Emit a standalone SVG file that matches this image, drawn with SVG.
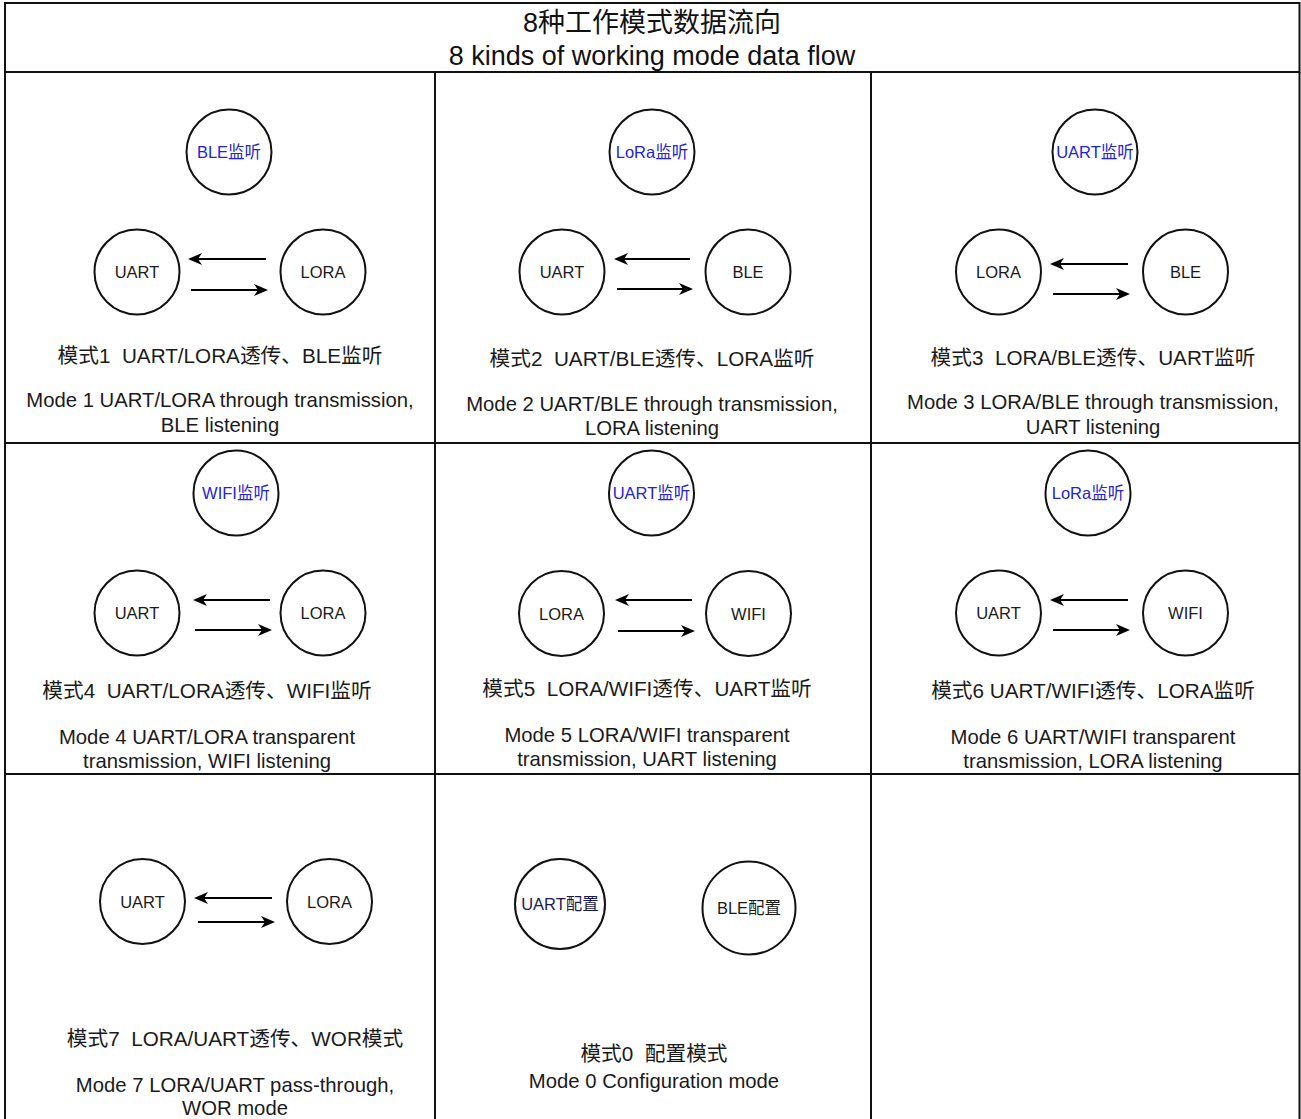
<svg xmlns="http://www.w3.org/2000/svg" width="1301" height="1119" viewBox="0 0 1301 1119">
<defs>
<marker id="ah" viewBox="0 0 14 12" markerWidth="14" markerHeight="12" markerUnits="userSpaceOnUse" refX="9" refY="6" orient="auto">
<path d="M0,0 L14,6 L0,12 L4,6 z" fill="#000"/>
</marker>
<style>
.grid{stroke:#111;stroke-width:2;fill:none}
.node{fill:#fff;stroke:#111;stroke-width:2}
.nt{font-family:"Liberation Sans","Noto Sans CJK SC",sans-serif;font-size:16.5px;fill:#1a1a1a;text-anchor:middle;dominant-baseline:central}
.blue{fill:#2323dd}
.navy{fill:#1a1a55}
.lbl{font-family:"Liberation Sans","Noto Sans CJK SC",sans-serif;font-size:20.3px;fill:#1a1a1a;text-anchor:middle;white-space:pre}
.cn{font-size:20.7px}
.ttl{font-family:"Liberation Sans","Noto Sans CJK SC",sans-serif;font-size:27px;fill:#111;text-anchor:middle}
.arr{stroke:#000;stroke-width:2;fill:none;marker-end:url(#ah)}
</style>
</defs>
<rect width="1301" height="1119" fill="#fff"/>
<g id="grid">
<rect x="5" y="3" width="1294.5" height="69" class="grid"/>
<line x1="5" y1="72" x2="5" y2="1119" class="grid"/>
<line x1="1299.5" y1="72" x2="1299.5" y2="1119" class="grid"/>
<line x1="435" y1="72" x2="435" y2="1119" class="grid"/>
<line x1="871" y1="72" x2="871" y2="1119" class="grid"/>
<line x1="5" y1="443" x2="1300" y2="443" class="grid"/>
<line x1="5" y1="774" x2="1300" y2="774" class="grid"/>
</g>
<g id="title">
<text x="652" y="32" class="ttl">8种工作模式数据流向</text>
<text x="652" y="65" class="ttl">8 kinds of working mode data flow</text>
</g>
<!-- Mode 1 -->
<g id="m1-ble"><circle cx="229" cy="152" r="42.5" class="node"/><text x="229" y="152" class="nt blue">BLE监听</text></g>
<g id="m1-uart"><circle cx="137" cy="272" r="42.5" class="node"/><text x="137" y="272" class="nt">UART</text></g>
<g id="m1-lora"><circle cx="323" cy="272" r="42.5" class="node"/><text x="323" y="272" class="nt">LORA</text></g>
<g id="m1-label">
<text x="220" y="363" class="lbl cn" xml:space="preserve">模式1  UART/LORA透传、BLE监听</text>
<text x="220" y="407" class="lbl">Mode 1 UART/LORA through transmission,</text>
<text x="220" y="432" class="lbl">BLE listening</text>
</g>
<!-- Mode 2 -->
<g id="m2-lora"><circle cx="652" cy="152" r="42.5" class="node"/><text x="652" y="152" class="nt blue">LoRa监听</text></g>
<g id="m2-uart"><circle cx="562" cy="272" r="42.5" class="node"/><text x="562" y="272" class="nt">UART</text></g>
<g id="m2-ble"><circle cx="748" cy="272" r="42.5" class="node"/><text x="748" y="272" class="nt">BLE</text></g>
<g id="m2-label">
<text x="652" y="366" class="lbl cn" xml:space="preserve">模式2  UART/BLE透传、LORA监听</text>
<text x="652" y="411" class="lbl">Mode 2 UART/BLE through transmission,</text>
<text x="652" y="435" class="lbl">LORA listening</text>
</g>
<!-- Mode 3 -->
<g id="m3-uart"><circle cx="1095" cy="152" r="42.5" class="node"/><text x="1095" y="152" class="nt blue">UART监听</text></g>
<g id="m3-lora"><circle cx="998.5" cy="272" r="42.5" class="node"/><text x="998.5" y="272" class="nt">LORA</text></g>
<g id="m3-ble"><circle cx="1185.5" cy="272" r="42.5" class="node"/><text x="1185.5" y="272" class="nt">BLE</text></g>
<g id="m3-label">
<text x="1093" y="365" class="lbl cn" xml:space="preserve">模式3  LORA/BLE透传、UART监听</text>
<text x="1093" y="409" class="lbl">Mode 3 LORA/BLE through transmission,</text>
<text x="1093" y="434" class="lbl">UART listening</text>
</g>
<!-- Mode 4 -->
<g id="m4-wifi"><circle cx="236" cy="493" r="42.5" class="node"/><text x="236" y="493" class="nt blue">WIFI监听</text></g>
<g id="m4-uart"><circle cx="137" cy="613" r="42.5" class="node"/><text x="137" y="613" class="nt">UART</text></g>
<g id="m4-lora"><circle cx="323" cy="613" r="42.5" class="node"/><text x="323" y="613" class="nt">LORA</text></g>
<g id="m4-label">
<text x="207" y="698" class="lbl cn" xml:space="preserve">模式4  UART/LORA透传、WIFI监听</text>
<text x="207" y="744" class="lbl">Mode 4 UART/LORA transparent</text>
<text x="207" y="768" class="lbl">transmission, WIFI listening</text>
</g>
<!-- Mode 5 -->
<g id="m5-uart"><circle cx="651.5" cy="493" r="42.5" class="node"/><text x="651.5" y="493" class="nt blue">UART监听</text></g>
<g id="m5-lora"><circle cx="561.5" cy="613.5" r="42.5" class="node"/><text x="561.5" y="613.5" class="nt">LORA</text></g>
<g id="m5-wifi"><circle cx="748.5" cy="613.5" r="42.5" class="node"/><text x="748.5" y="613.5" class="nt">WIFI</text></g>
<g id="m5-label">
<text x="647" y="696" class="lbl cn" xml:space="preserve">模式5  LORA/WIFI透传、UART监听</text>
<text x="647" y="742" class="lbl">Mode 5 LORA/WIFI transparent</text>
<text x="647" y="766" class="lbl">transmission, UART listening</text>
</g>
<!-- Mode 6 -->
<g id="m6-lora"><circle cx="1088" cy="493" r="42.5" class="node"/><text x="1088" y="493" class="nt blue">LoRa监听</text></g>
<g id="m6-uart"><circle cx="998.5" cy="613" r="42.5" class="node"/><text x="998.5" y="613" class="nt">UART</text></g>
<g id="m6-wifi"><circle cx="1185.5" cy="613" r="42.5" class="node"/><text x="1185.5" y="613" class="nt">WIFI</text></g>
<g id="m6-label">
<text x="1093" y="698" class="lbl cn">模式6 UART/WIFI透传、LORA监听</text>
<text x="1093" y="744" class="lbl">Mode 6 UART/WIFI transparent</text>
<text x="1093" y="768" class="lbl">transmission, LORA listening</text>
</g>
<!-- Mode 7 -->
<g id="m7-uart"><circle cx="142.5" cy="901.5" r="42.5" class="node"/><text x="142.5" y="901.5" class="nt">UART</text></g>
<g id="m7-lora"><circle cx="329.5" cy="901.5" r="42.5" class="node"/><text x="329.5" y="901.5" class="nt">LORA</text></g>
<g id="m7-label">
<text x="235" y="1046" class="lbl cn" xml:space="preserve">模式7  LORA/UART透传、WOR模式</text>
<text x="235" y="1092" class="lbl">Mode 7 LORA/UART pass-through,</text>
<text x="235" y="1115" class="lbl">WOR mode</text>
</g>
<!-- Mode 0 -->
<g id="m0-uart"><circle cx="560" cy="904" r="45" class="node"/><text x="560" y="904" class="nt navy">UART配置</text></g>
<g id="m0-ble"><circle cx="749" cy="908" r="46.5" class="node"/><text x="749" y="908" class="nt">BLE配置</text></g>
<g id="m0-label">
<text x="654" y="1061" class="lbl cn" xml:space="preserve">模式0  配置模式</text>
<text x="654" y="1088" class="lbl">Mode 0 Configuration mode</text>
</g>
<g id="connectors">
<line x1="266" y1="259" x2="193" y2="259" class="arr"/>
<line x1="191" y1="290" x2="263" y2="290" class="arr"/>
<line x1="690" y1="259" x2="619" y2="259" class="arr"/>
<line x1="617" y1="289" x2="688" y2="289" class="arr"/>
<line x1="1128" y1="264" x2="1055" y2="264" class="arr"/>
<line x1="1053" y1="294" x2="1125" y2="294" class="arr"/>
<line x1="270" y1="600" x2="198" y2="600" class="arr"/>
<line x1="195" y1="630" x2="267" y2="630" class="arr"/>
<line x1="692" y1="600" x2="620" y2="600" class="arr"/>
<line x1="618" y1="631" x2="690" y2="631" class="arr"/>
<line x1="1128" y1="600" x2="1055" y2="600" class="arr"/>
<line x1="1053" y1="630" x2="1125" y2="630" class="arr"/>
<line x1="272" y1="898" x2="199" y2="898" class="arr"/>
<line x1="198" y1="922" x2="270" y2="922" class="arr"/>
</g>
</svg>
